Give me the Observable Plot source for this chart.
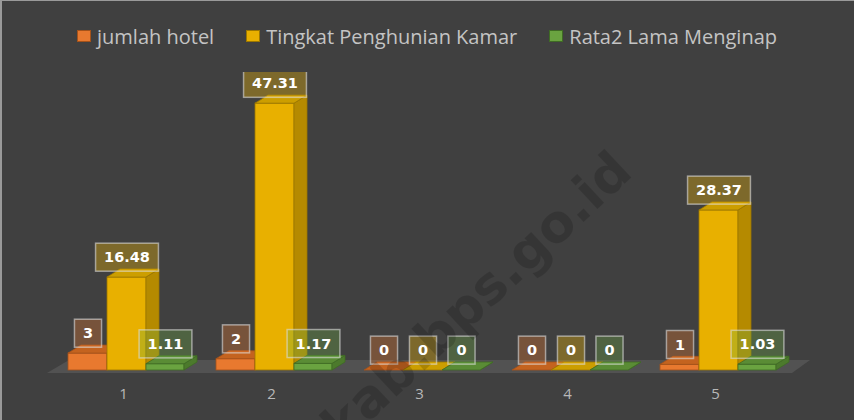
<!DOCTYPE html>
<html>
<head>
<meta charset="utf-8">
<script src="https://cdn.jsdelivr.net/npm/d3@7"></script>
<script src="https://cdn.jsdelivr.net/npm/@observablehq/plot@0.6"></script>
<style>
  html, body { margin: 0; padding: 0; background: #404040; }
  #wrap { width: 854px; height: 420px; position: relative; overflow: hidden; background: #404040; }
  #wrap::after { content: ""; position: absolute; left: 0; top: 0; right: 0; bottom: 0;
    border-top: 1px solid #9a9a9a; border-left: 2px solid #9a9a9a; pointer-events: none; }
  #legend { height: 72px; display: flex; align-items: center; justify-content: center;
    font-family: "Open Sans", sans-serif; font-size: 20px; color: #c4c4c4; }
  .item { display: flex; align-items: center; margin: 0 16px; }
  .sw { width: 12px; height: 10px; border: 1px solid; margin-right: 6px; }
  #chart svg { display: block; }
</style>
</head>
<body>
<div id="wrap">
  <div id="legend"></div>
  <div id="chart"></div>
</div>
<script>
// ---- data ----
const categories = ["1", "2", "3", "4", "5"];
const jumlahHotel = [3, 2, 0, 0, 1];
const tingkatPenghunianKamar = [16.48, 47.31, 0, 0, 28.37];
const rata2LamaMenginap = [1.11, 1.17, 0, 0, 1.03];
const seriesNames = ["jumlah hotel", "Tingkat Penghunian Kamar", "Rata2 Lama Menginap"];
const watermarkText = "tarkab.bps.go.id";

// ---- styles ----
const seriesValues = [jumlahHotel, tingkatPenghunianKamar, rata2LamaMenginap];
const palette = [
  {base: "#ED7D31", front: "#E8792F", side: "#B35A1C", top: "#C4631F", edge: "#A4521A"},
  {base: "#FFC000", front: "#E8B000", side: "#B58A00", top: "#CC9E00", edge: "#9C7700"},
  {base: "#70AD47", front: "#6AA340", side: "#4C7A2C", top: "#5A8C35", edge: "#3F6B24"}
];
// pixel insets of each series inside its category band (band width 148.25)
const insets = [[19, 90], [58, 51], [97, 13]];
const DX = 13, DY = -8;
const NS = "http://www.w3.org/2000/svg";

// legend
const legend = document.getElementById("legend");
seriesNames.forEach((name, s) => {
  const it = document.createElement("div");
  it.className = "item";
  const sw = document.createElement("span");
  sw.className = "sw";
  sw.style.background = palette[s].front;
  sw.style.borderColor = palette[s].edge;
  it.appendChild(sw);
  const t = document.createElement("span");
  t.textContent = name;
  it.appendChild(t);
  legend.appendChild(it);
});

function poly(points, fill, stroke) {
  const p = document.createElementNS(NS, "polygon");
  p.setAttribute("points", points.map(d => d.join(",")).join(" "));
  p.setAttribute("fill", fill);
  p.setAttribute("stroke", stroke);
  p.setAttribute("stroke-width", "0.8");
  p.setAttribute("stroke-linejoin", "round");
  return p;
}

function box3d(c) {
  return function(index, scales, values, dims, ctx, next) {
    const g = next(index, scales, values, dims, ctx);
    if (!g) return g;
    const rects = Array.from(g.querySelectorAll("rect"));
    for (const r of rects) {
      const x = +r.getAttribute("x"), y = +r.getAttribute("y");
      const w = +r.getAttribute("width"), h = +r.getAttribute("height");
      const side = poly([[x + w, y], [x + w + DX, y + DY], [x + w + DX, y + h + DY], [x + w, y + h]], c.side, c.edge);
      const top = poly([[x, y], [x + DX, y + DY], [x + w + DX, y + DY], [x + w, y]], c.top, c.edge);
      r.after(side);
      side.after(top);
    }
    return g;
  };
}

function floorRender(index, scales, values, dims) {
  const y0 = scales.y(0);
  const xl = dims.marginLeft, xr = dims.width - dims.marginRight;
  const g = document.createElementNS(NS, "g");
  g.appendChild(poly([[xl - 1, y0 + 3], [xr + 3, y0 + 3], [xr + 21, y0 - 10], [xl + 21, y0 - 10]], "#525252", "none"));
  return g;
}

const fmt = v => String(v);
const marks = [];
marks.push(Plot.ruleY([0], {render: floorRender}));

seriesValues.forEach((vals, s) => {
  const rows = categories.map((c, i) => ({cat: c, value: vals[i]}));
  marks.push(Plot.barY(rows, {
    x: "cat", y: "value",
    insetLeft: insets[s][0], insetRight: insets[s][1],
    fill: palette[s].front, stroke: palette[s].edge, strokeWidth: 0.8,
    render: box3d(palette[s])
  }));
});
seriesValues.forEach((vals, s) => {
  const rows = categories.map((c, i) => ({cat: c, value: vals[i]}));
  marks.push(Plot.text(rows, {
    x: "cat", y: "value", text: d => fmt(d.value),
    dx: (insets[s][0] - insets[s][1]) / 2, dy: -20,
    fill: "white", fontWeight: "bold", fontSize: 14.5, fontFamily: "DejaVu Sans",
    className: "lbl lbl" + s
  }));
});
marks.push(Plot.text([watermarkText], {
  frameAnchor: "top-left", dx: 586, dy: 86, text: d => d,
  textAnchor: "end", lineAnchor: "bottom", rotate: -43,
  fontSize: 52, fontWeight: "bold", fontFamily: "DejaVu Sans",
  fill: "black", fillOpacity: 0.16
}));

const chart = Plot.plot({
  width: 854, height: 348,
  marginLeft: 48, marginRight: 65, marginTop: 16, marginBottom: 50,
  style: {background: "transparent", color: "#b8b8b8", fontFamily: "Open Sans", fontSize: "15px"},
  x: {type: "band", domain: categories, padding: 0, tickSize: 0, tickPadding: 18, label: null},
  y: {domain: [0, 50], axis: null},
  marks
});
document.getElementById("chart").appendChild(chart);

// data-label boxes behind each label text
seriesValues.forEach((vals, s) => {
  const g = chart.querySelector(".lbl" + s);
  if (!g) return;
  g.querySelectorAll("text").forEach(t => {
    const b = t.getBBox();
    const r = document.createElementNS(NS, "rect");
    const cy = b.y + b.height / 2;
    r.setAttribute("x", b.x - 8.5);
    r.setAttribute("y", cy - 14);
    r.setAttribute("width", b.width + 17);
    r.setAttribute("height", 28);
    r.setAttribute("fill", palette[s].base);
    r.setAttribute("fill-opacity", 0.32);
    r.setAttribute("stroke", "#dcdcdc");
    r.setAttribute("stroke-opacity", 0.6);
    r.setAttribute("stroke-width", 1.5);
    if (t.getAttribute("transform")) r.setAttribute("transform", t.getAttribute("transform"));
    t.parentNode.insertBefore(r, t);
  });
});
</script>
</body>
</html>
